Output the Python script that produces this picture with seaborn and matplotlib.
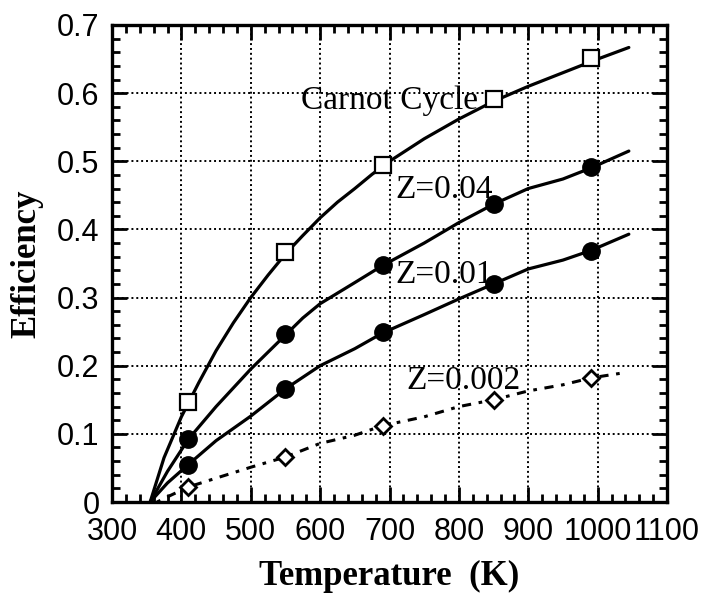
import matplotlib
matplotlib.use("Agg")
import matplotlib.pyplot as plt
import seaborn as sns
import numpy as np
import pandas as pd
from matplotlib.ticker import MultipleLocator

# ---- data ----
carnot_T = [355, 375, 400, 425, 450, 475, 500, 525, 550, 575, 600, 625, 650, 675, 700, 750, 800, 850, 900, 950, 1000, 1045]
carnot_E = [0.0, 0.065, 0.125, 0.175, 0.222, 0.263, 0.300, 0.333, 0.364, 0.391, 0.417, 0.440, 0.460, 0.481, 0.500, 0.533, 0.562, 0.588, 0.610, 0.630, 0.650, 0.667]

z04_T = [355, 380, 410, 450, 500, 550, 575, 600, 650, 690, 750, 800, 850, 900, 950, 990, 1045]
z04_E = [0.0, 0.045, 0.092, 0.140, 0.195, 0.245, 0.270, 0.291, 0.322, 0.347, 0.380, 0.410, 0.437, 0.460, 0.474, 0.490, 0.515]

z01_T = [355, 380, 410, 450, 500, 550, 600, 650, 690, 750, 800, 850, 900, 950, 990, 1045]
z01_E = [0.0, 0.028, 0.055, 0.090, 0.126, 0.166, 0.200, 0.225, 0.248, 0.275, 0.298, 0.320, 0.342, 0.355, 0.369, 0.393]

z002_T = [365, 385, 410, 450, 500, 550, 600, 650, 690, 750, 800, 850, 900, 950, 990, 1040]
z002_E = [0.0, 0.010, 0.022, 0.035, 0.051, 0.066, 0.086, 0.098, 0.112, 0.125, 0.140, 0.150, 0.163, 0.172, 0.182, 0.190]

marker_T = [410, 550, 690, 850, 990]
carnot_mk = [0.147, 0.367, 0.494, 0.592, 0.652]
z04_mk = [0.093, 0.247, 0.348, 0.438, 0.491]
z01_mk = [0.055, 0.166, 0.249, 0.320, 0.369]
z002_mk = [0.022, 0.066, 0.112, 0.150, 0.182]

labels = ["Carnot Cycle", "Z=0.04", "Z=0.01", "Z=0.002"]
label_T = [572, 708, 708, 725]
label_E = [0.576, 0.446, 0.322, 0.166]

x_ticks = [300, 400, 500, 600, 700, 800, 900, 1000, 1100]
y_ticks = [0, 0.1, 0.2, 0.3, 0.4, 0.5, 0.6, 0.7]
y_ticklabels = ["0", "0.1", "0.2", "0.3", "0.4", "0.5", "0.6", "0.7"]

# ---- styling ----
sns.set_theme(style="ticks")
plt.rcParams["font.family"] = ["Liberation Sans", "DejaVu Sans"]
plt.rcParams["text.color"] = "black"
plt.rcParams["axes.labelcolor"] = "black"
plt.rcParams["xtick.color"] = "black"
plt.rcParams["ytick.color"] = "black"
plt.rcParams["axes.edgecolor"] = "black"

fig = plt.figure(figsize=(7.07, 5.98), dpi=100)
ax = fig.add_axes([112 / 707, 1 - 502 / 598, (667 - 112) / 707, (502 - 25) / 598])

lw = 2.3
for T, E in [(carnot_T, carnot_E), (z04_T, z04_E), (z01_T, z01_E)]:
    sns.lineplot(x=T, y=E, ax=ax, color="black", linewidth=lw, sort=False,
                 estimator=None, legend=False, zorder=3)
sns.lineplot(x=z002_T, y=z002_E, ax=ax, color="black", linewidth=2.2, sort=False,
             estimator=None, legend=False, zorder=3)
ax.lines[-1].set_linestyle((0, (1.2, 2.5, 3, 2.5)))

# markers
ax.plot(marker_T, carnot_mk, linestyle="none", marker="s", ms=11.5,
        mfc="white", mec="black", mew=1.6, zorder=4)
ax.plot(marker_T, z04_mk, linestyle="none", marker="o", ms=12.5,
        mfc="black", mec="black", zorder=4)
ax.plot(marker_T, z01_mk, linestyle="none", marker="o", ms=12.5,
        mfc="black", mec="black", zorder=4)
ax.plot(marker_T, z002_mk, linestyle="none", marker="D", ms=8.5,
        mfc="white", mec="black", mew=2.0, zorder=4)

for txt, tx, ty in zip(labels, label_T, label_E):
    ax.text(tx, ty, txt, fontsize=24, family=["Liberation Serif", "DejaVu Serif"],
            ha="left", va="baseline", color="black", zorder=5)

ax.set_xlim(300, 1100)
ax.set_ylim(0, 0.7)
ax.set_xticks(x_ticks)
ax.set_xticklabels([str(v) for v in x_ticks])
ax.set_yticks(y_ticks)
ax.set_yticklabels(y_ticklabels)
ax.xaxis.set_minor_locator(MultipleLocator(20))
ax.yaxis.set_minor_locator(MultipleLocator(0.02))

ax.tick_params(which="both", direction="in", top=True, right=True, color="black",
               labelcolor="black")
ax.tick_params(which="major", length=11, width=2, labelsize=22)
ax.tick_params(which="minor", length=6, width=2)
ax.tick_params(axis="x", which="major", pad=11)
ax.tick_params(axis="y", which="major", pad=9)

for s in ax.spines.values():
    s.set_linewidth(2.4)
    s.set_color("black")

ax.grid(True, which="major", color="black", linestyle=(0, (1, 1.5)), linewidth=1.4)
ax.set_axisbelow(True)

ax.set_xlabel("Temperature  (K)", fontsize=25, fontweight="bold",
              family=["Liberation Serif", "DejaVu Serif"], va="center", color="black")
ax.set_ylabel("Efficiency", fontsize=25, fontweight="bold",
              family=["Liberation Serif", "DejaVu Serif"], va="center", color="black")
ax.xaxis.set_label_coords(0.5, -0.157)
ax.yaxis.set_label_coords(-0.153, 0.5)

fig.savefig("out.png", dpi=100, facecolor="white")
